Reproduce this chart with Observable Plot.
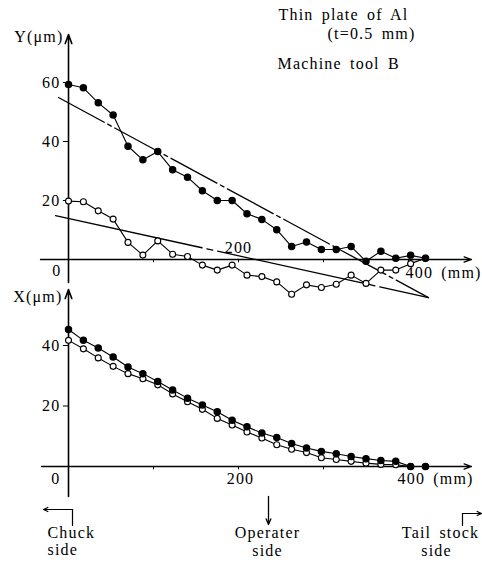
<!DOCTYPE html>
<html><head><meta charset="utf-8">
<script src="https://cdn.jsdelivr.net/npm/d3@7"></script>
<script src="https://cdn.jsdelivr.net/npm/@observablehq/plot@0.6"></script>
<style>
html,body{margin:0;padding:0;background:#fff;}
#chart{position:relative;width:482px;height:572px;}
#chart svg{position:absolute;left:0;top:0;overflow:visible;}
#chart svg text{letter-spacing:1.2px;word-spacing:3px;}
</style></head><body><div id="chart"></div>
<script>
// ---- data (mm along the workpiece, deflections in micrometres) ----
const positions = [0,17.5,35,52.5,70,87.5,105,122.5,140,157.5,175,192.5,210,227.5,245,262.5,280,297.5,315,332.5,350,367.5,385,402.5,420];
const yFilled = [59.3,58.2,53.1,49.0,38.4,33.8,36.6,30.4,27.9,23.3,20.0,20.0,15.5,13.6,10.1,4.4,5.9,3.4,3.4,4.4,-0.6,2.8,0.4,1.4,0.4];
const yOpen   = [19.8,19.6,16.5,13.7,5.8,1.5,6.3,1.8,1.0,-1.9,-3.6,-1.9,-5.3,-5.8,-7.6,-11.8,-8.6,-9.5,-8.4,-5.3,-8.1,-3.6,-3.6,-1.4,0.4];
const xFilled = [45.3,41.7,39.2,36.2,32.9,30.7,28.1,25.3,22.6,20.3,18.1,15.3,13.1,11.1,9.6,7.6,6.1,5.0,4.2,3.3,2.6,2.0,1.7,0.0,0.0];
const xOpen   = [41.7,38.9,35.9,33.1,30.7,29.0,27.0,24.0,21.4,18.9,15.9,13.7,11.4,9.4,7.2,5.7,4.6,2.9,2.3,1.7,1.1,0.7,0.6,0.0,0.0];
const fitFilledX = [-11.8, 423.5], fitFilledY = [54.9, -12.9];
const fitOpenX = [-15.3, 423.5], fitOpenY = [14.9, -12.9];
const xTicks = [100, 200, 300, 400];
const yTicksTop = [20, 40, 60];
const yTicksBottom = [20, 40];
const titleLines = ["Thin plate of Al", "(t=0.5 mm)", "Machine tool B"];
const sideLabels = ["Chuck", "Operater", "Tail stock", "side"];

// ---- layout helpers (pixel -> data) ----
const px = p => (p - 68) / 0.85;
const pyT = p => (259 - p) / 2.95;
const pyB = p => (466 - p) / 3.025;

const FONT = "'Liberation Serif', 'Times New Roman', Times, 'DejaVu Serif', 'Noto Serif', serif";
const F = 16;
const style = {background: "transparent", fontSize: "16px", overflow: "visible"};
const rows = (ys) => positions.map((x, i) => ({x, y: ys[i]}));
const fit = (xs, ys) => xs.map((x, i) => ({x, y: ys[i]}));
const T = {fontSize: F, fill: "black", fontFamily: FONT};

const topPlot = Plot.plot({
  width: 482, height: 572,
  marginLeft: 68, marginRight: 74, marginTop: 82, marginBottom: 313,
  x: {domain: [0, 400], axis: null},
  y: {domain: [0, 60], axis: null},
  style,
  marks: [
    Plot.arrow([0], {x1: px(40), y1: 0, x2: px(471), y2: 0, stroke: "black", strokeWidth: 1.3, headLength: 9, headAngle: 40}),
    Plot.arrow([0], {x1: 0, y1: pyT(282), x2: 0, y2: pyT(34), stroke: "black", strokeWidth: 1.6, headLength: 9, headAngle: 40}),
    Plot.ruleX(xTicks, {x: d => d, y1: 0, y2: -1.1, stroke: "black"}),
    Plot.ruleY(yTicksTop, {y: d => d, x1: -6, x2: 0, stroke: "black"}),
    Plot.text(yTicksTop, {x: 0, y: d => d, text: d => String(d), dx: -8, textAnchor: "end", ...T}),
    Plot.text(["0"], {x: 0, y: 0, text: d => d, dx: -7, dy: 11, textAnchor: "end", ...T}),
    Plot.text([200], {x: d => d, y: 0, text: d => String(d), dy: -12, ...T}),
    Plot.text([400], {x: d => d, y: 0, text: d => d + " (mm)", dx: -3, dy: 13, textAnchor: "start", ...T}),
    Plot.text(["Y(μm)"], {x: 0, y: pyT(36), text: d => d, dx: -5, textAnchor: "end", ...T}),
    Plot.text([titleLines[0]], {x: px(278), y: pyT(14), text: d => d, textAnchor: "start", ...T}),
    Plot.text([titleLines[1]], {x: px(327), y: pyT(33), text: d => d, textAnchor: "start", ...T}),
    Plot.text([titleLines[2]], {x: px(277), y: pyT(63), text: d => d, textAnchor: "start", ...T}),
    Plot.line(fit(fitFilledX, fitFilledY), {x: "x", y: "y", stroke: "black", strokeWidth: 1.3, strokeDasharray: "52,4,4,4"}),
    Plot.line(fit(fitOpenX, fitOpenY), {x: "x", y: "y", stroke: "black", strokeWidth: 1.3, strokeDasharray: "150,5,6,5"}),
    Plot.line(rows(yOpen), {x: "x", y: "y", stroke: "black", strokeWidth: 1.1}),
    Plot.dot(rows(yOpen), {x: "x", y: "y", r: 3, fill: "white", stroke: "black", strokeWidth: 1.1}),
    Plot.line(rows(yFilled), {x: "x", y: "y", stroke: "black", strokeWidth: 1.1}),
    Plot.dot(rows(yFilled), {x: "x", y: "y", r: 3, fill: "black", stroke: "black"})
  ]
});

const botPlot = Plot.plot({
  width: 482, height: 572,
  marginLeft: 68, marginRight: 74, marginTop: 345, marginBottom: 106,
  x: {domain: [0, 400], axis: null},
  y: {domain: [0, 40], axis: null},
  style,
  marks: [
    Plot.arrow([0], {x1: px(41), y1: 0, x2: px(471), y2: 0, stroke: "black", strokeWidth: 1.3, headLength: 9, headAngle: 40}),
    Plot.arrow([0], {x1: 0, y1: pyB(496), x2: 0, y2: pyB(289), stroke: "black", strokeWidth: 1.6, headLength: 9, headAngle: 40}),
    Plot.ruleX(xTicks, {x: d => d, y1: 0, y2: -1.1, stroke: "black"}),
    Plot.ruleY(yTicksBottom, {y: d => d, x1: -6, x2: 0, stroke: "black"}),
    Plot.text(yTicksBottom, {x: 0, y: d => d, text: d => String(d), dx: -8, textAnchor: "end", ...T}),
    Plot.text(["0"], {x: 0, y: 0, text: d => d, dx: -8, dy: 12, textAnchor: "end", ...T}),
    Plot.text([200], {x: d => d, y: 0, text: d => String(d), dx: 2, dy: 12, ...T}),
    Plot.text([400], {x: d => d, y: 0, text: d => d + " (mm)", dx: -11, dy: 12, textAnchor: "start", ...T}),
    Plot.text(["X(μm)"], {x: 0, y: pyB(296), text: d => d, dx: -6, textAnchor: "end", ...T}),
    // side annotations
    Plot.line([{x: px(72), y: pyB(525)}, {x: px(72), y: pyB(509)}], {x: "x", y: "y", stroke: "black", strokeWidth: 1.2}),
    Plot.arrow([0], {x1: px(72), y1: pyB(509), x2: px(43), y2: pyB(509), stroke: "black", strokeWidth: 1.2, headLength: 6, headAngle: 50}),
    Plot.arrow([0], {x1: px(268), y1: pyB(496), x2: px(268), y2: pyB(524), stroke: "black", strokeWidth: 1.3, headLength: 7, headAngle: 45}),
    Plot.line([{x: px(462), y: pyB(525)}, {x: px(462), y: pyB(513)}], {x: "x", y: "y", stroke: "black", strokeWidth: 1.2}),
    Plot.arrow([0], {x1: px(462), y1: pyB(513), x2: px(481), y2: pyB(513), stroke: "black", strokeWidth: 1.2, headLength: 6, headAngle: 50}),
    Plot.text([sideLabels[0]], {x: px(47), y: pyB(532), text: d => d, textAnchor: "start", ...T}),
    Plot.text([sideLabels[3]], {x: px(47), y: pyB(549), text: d => d, textAnchor: "start", ...T}),
    Plot.text([sideLabels[1]], {x: px(267), y: pyB(532), text: d => d, ...T}),
    Plot.text([sideLabels[3]], {x: px(267), y: pyB(550), text: d => d, ...T}),
    Plot.text([sideLabels[2]], {x: px(440), y: pyB(532), text: d => d, ...T}),
    Plot.text([sideLabels[3]], {x: px(436), y: pyB(550), text: d => d, ...T}),
    // data
    Plot.line(rows(xOpen), {x: "x", y: "y", stroke: "black", strokeWidth: 1.1}),
    Plot.dot(rows(xOpen), {x: "x", y: "y", r: 3, fill: "white", stroke: "black", strokeWidth: 1.1}),
    Plot.line(rows(xFilled), {x: "x", y: "y", stroke: "black", strokeWidth: 1.1}),
    Plot.dot(rows(xFilled), {x: "x", y: "y", r: 3, fill: "black", stroke: "black"})
  ]
});

const chart = document.getElementById("chart");
chart.appendChild(topPlot);
chart.appendChild(botPlot);
</script></body></html>
